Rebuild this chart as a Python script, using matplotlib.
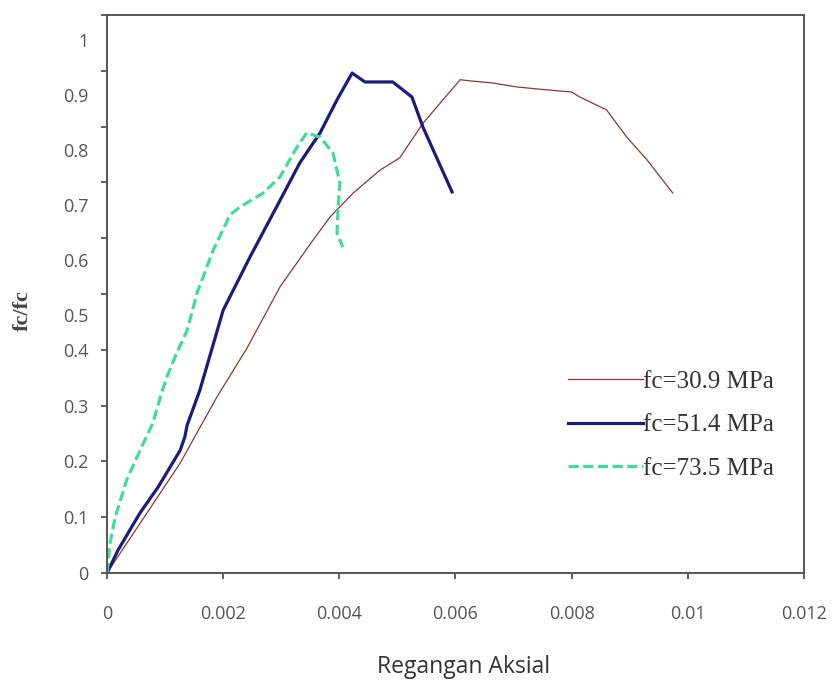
import matplotlib
matplotlib.use("Agg")
import matplotlib.pyplot as plt
import numpy as np

# Axial strain vs normalised stress for three concrete strengths
strain_309 = [0, 0.00126, 0.00189, 0.00241, 0.00298, 0.00355, 0.00384, 0.00424,
              0.00470, 0.00504, 0.00544, 0.00608, 0.00625, 0.00665, 0.00706,
              0.00745, 0.00800, 0.00814, 0.00860, 0.00895, 0.00930, 0.00974]
stress_309 = [0, 0.197, 0.315, 0.403, 0.513, 0.597, 0.638, 0.681,
              0.722, 0.744, 0.806, 0.884, 0.882, 0.878, 0.871,
              0.867, 0.862, 0.853, 0.830, 0.781, 0.740, 0.681]

strain_514 = [0, 0.00019, 0.00057, 0.00088, 0.00126, 0.00134, 0.00138, 0.00160,
              0.00181, 0.00200, 0.00246, 0.00298, 0.00332, 0.00367, 0.00396,
              0.00422, 0.00444, 0.00492, 0.00525, 0.00544, 0.00594]
stress_514 = [0, 0.041, 0.108, 0.154, 0.220, 0.244, 0.265, 0.328,
              0.403, 0.471, 0.566, 0.668, 0.735, 0.789, 0.848,
              0.896, 0.880, 0.880, 0.853, 0.799, 0.683]

strain_735 = [0, 0.00005, 0.00014, 0.00034, 0.00057, 0.00079, 0.00094, 0.00103,
              0.00120, 0.00138, 0.00155, 0.00183, 0.00212, 0.00229, 0.00269,
              0.00298, 0.00327, 0.00344, 0.00367, 0.00389, 0.00401, 0.00398,
              0.00396, 0.00406]
stress_735 = [0, 0.052, 0.100, 0.167, 0.220, 0.269, 0.323, 0.351,
              0.394, 0.435, 0.502, 0.579, 0.642, 0.656, 0.681,
              0.710, 0.763, 0.789, 0.781, 0.753, 0.699, 0.656,
              0.609, 0.584]

series_labels = ["fc=30.9 MPa", "fc=51.4 MPa", "fc=73.5 MPa"]

x_ticks = [0, 0.002, 0.004, 0.006, 0.008, 0.010, 0.012]
x_tick_labels = ["0", "0.002", "0.004", "0.006", "0.008", "0.01", "0.012"]
y_ticks = [0, 0.1, 0.2, 0.3, 0.4, 0.5, 0.6, 0.7, 0.8, 0.9, 1.0]
y_tick_labels = ["0", "0.1", "0.2", "0.3", "0.4", "", "", "", "", "", ""]
# upper labels sit slightly below their tick marks
upper_label_pos = [0.462, 0.561, 0.659, 0.758, 0.857, 0.955]
upper_labels = ["0.5", "0.6", "0.7", "0.8", "0.9", "1"]

W, H = 832, 681
fig = plt.figure(figsize=(W / 100, H / 100), dpi=100)
ax = fig.add_axes([107 / W, 1 - 573 / H, (804 - 107) / W, (573 - 15) / H])

ax.plot(strain_309, stress_309, color="#8e3535", lw=0.9, label=series_labels[0])
ax.plot(strain_514, stress_514, color="#1b1b7c", lw=2.3, label=series_labels[1])
ax.plot(strain_735, stress_735, color="#3fdc9c", lw=2.3, dashes=(3.2, 1.4),
        label=series_labels[2])

ax.set_xlim(0, 0.012)
ax.set_ylim(0, 1.0)

tick_font = dict(family="Open Sans", size=13, color="#555555")
ax.set_xticks(x_ticks)
ax.set_xticklabels(x_tick_labels, fontdict=tick_font)
ax.set_yticks(y_ticks)
ax.set_yticklabels(y_tick_labels, fontdict=tick_font)
ax.set_yticks(upper_label_pos, minor=True)
ax.set_yticklabels(upper_labels, minor=True, fontdict=tick_font)

ax.tick_params(axis="x", which="major", direction="out", length=4, width=1.2,
               color="#444444", pad=19)
ax.tick_params(axis="y", which="major", direction="out", length=4.5, width=1.2,
               color="#444444", pad=9)
ax.tick_params(axis="y", which="minor", length=0, pad=13.5)

for s in ax.spines.values():
    s.set_color("#555555")
    s.set_linewidth(1.4)

fig.text(464 / W, 1 - 667 / H, "Regangan Aksial", ha="center", va="center",
         fontsize=16.5, family="Open Sans", color="#333333")
fig.text(23 / W, 1 - 311 / H, "fc/fc", ha="center", va="center", rotation=90,
         fontsize=16, family="Liberation Serif", fontweight="bold", color="#444444")

leg = ax.legend(loc="upper left", bbox_to_anchor=((568 - 107) / 697, (573 - 370) / 558),
                frameon=False, borderpad=0, borderaxespad=0, handlelength=3.0,
                handletextpad=0, labelspacing=0.85,
                prop=dict(family="Liberation Serif", size=18))
for t in leg.get_texts():
    t.set_color("#333333")

fig.savefig("out.png", dpi=100)
